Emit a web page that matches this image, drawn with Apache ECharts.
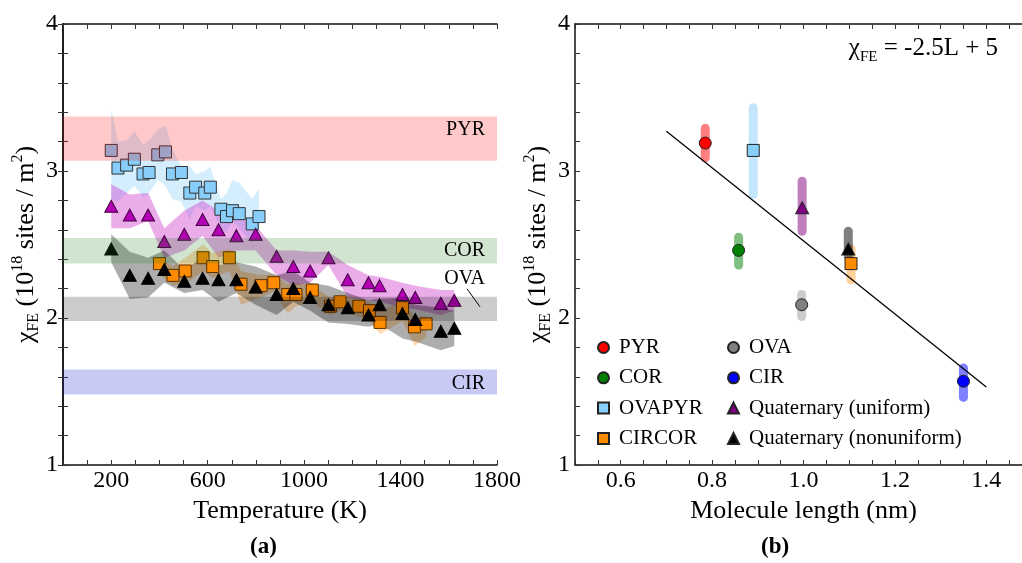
<!DOCTYPE html>
<html>
<head>
<meta charset="utf-8">
<script src="https://cdn.jsdelivr.net/npm/echarts@6/dist/echarts.min.js"></script>
<style>
html, body { margin: 0; background: #fff; }
#chart { width: 1022px; height: 563px; }
</style>
</head>
<body>
<div id="chart"></div>
<script>
// ---- panel (a): chi_FE vs temperature ----
const tempOvapyr = [200, 228, 264, 296, 332, 357, 393, 425, 454, 491, 526, 550, 588, 611, 655, 678, 703, 731, 785, 813];
const ovapyr     = [3.14, 3.02, 3.04, 3.08, 2.98, 2.99, 3.11, 3.13, 2.98, 2.99, 2.85, 2.89, 2.85, 2.89, 2.74, 2.69, 2.73, 2.71, 2.64, 2.69];
const ovapyrHi   = [3.42, 3.20, 3.21, 3.27, 3.18, 3.21, 3.28, 3.31, 3.15, 3.03, 3.03, 2.98, 3.00, 3.03, 2.81, 2.85, 2.94, 2.92, 2.81, 2.88];
const ovapyrLo   = [2.81, 2.79, 2.85, 2.90, 2.82, 2.85, 2.94, 2.90, 2.81, 2.79, 2.67, 2.76, 2.73, 2.76, 2.61, 2.58, 2.66, 2.61, 2.51, 2.58];

const tempQuat = [200, 277, 353, 420, 503, 579, 645, 719, 799, 886, 955, 1025, 1101, 1181, 1267, 1313, 1408, 1461, 1567, 1623];
const quatUni   = [2.76, 2.70, 2.70, 2.52, 2.57, 2.67, 2.60, 2.56, 2.57, 2.42, 2.35, 2.32, 2.41, 2.26, 2.24, 2.22, 2.16, 2.14, 2.10, 2.12];
const quatUniHi = [2.91, 2.84, 2.85, 2.61, 2.73, 2.80, 2.73, 2.71, 2.63, 2.46, 2.46, 2.45, 2.45, 2.36, 2.29, 2.28, 2.24, 2.22, 2.19, 2.19];
const quatUniLo = [2.61, 2.61, 2.66, 2.41, 2.46, 2.56, 2.41, 2.46, 2.46, 2.29, 2.22, 2.24, 2.36, 2.14, 2.12, 2.11, 2.07, 2.06, 2.02, 2.05];
const quatNon   = [2.47, 2.29, 2.27, 2.33, 2.25, 2.27, 2.26, 2.26, 2.21, 2.16, 2.20, 2.14, 2.09, 2.07, 2.02, 2.09, 2.03, 1.99, 1.91, 1.93];
const quatNonHi = [2.57, 2.45, 2.41, 2.46, 2.33, 2.41, 2.36, 2.38, 2.35, 2.29, 2.32, 2.24, 2.22, 2.17, 2.12, 2.13, 2.14, 2.09, 2.07, 2.05];
const quatNonLo = [2.38, 2.13, 2.14, 2.24, 2.17, 2.19, 2.11, 2.17, 2.09, 2.02, 2.11, 2.05, 1.97, 1.96, 1.94, 1.96, 1.86, 1.84, 1.78, 1.81];

const tempCircor = [400, 456, 507, 581, 621, 690, 738, 821, 874, 932, 966, 1034, 1109, 1149, 1227, 1271, 1315, 1408, 1458, 1506];
const circor     = [2.37, 2.29, 2.32, 2.41, 2.35, 2.41, 2.23, 2.22, 2.24, 2.16, 2.16, 2.19, 2.08, 2.11, 2.08, 2.05, 1.97, 2.07, 1.94, 1.96];
const circorHi   = [2.41, 2.35, 2.41, 2.50, 2.44, 2.47, 2.32, 2.29, 2.30, 2.23, 2.24, 2.22, 2.14, 2.16, 2.13, 2.11, 2.05, 2.11, 2.01, 2.01];
const circorLo   = [2.30, 2.22, 2.23, 2.32, 2.27, 2.32, 2.09, 2.14, 2.18, 2.03, 2.08, 2.11, 2.02, 2.05, 2.01, 1.98, 1.89, 1.98, 1.81, 1.87];

const bandNames = ['PYR', 'COR', 'OVA', 'CIR'];
const bandLo    = [3.07, 2.37, 1.98, 1.48];
const bandHi    = [3.37, 2.545, 2.145, 1.65];

// ---- panel (b): chi_FE vs molecule length ----
const molNames  = ['PYR', 'COR', 'OVAPYR', 'CIRCOR', 'OVA', 'CIR', 'Quaternary (uniform)', 'Quaternary (nonuniform)'];
const molLength = [0.785, 0.858, 0.890, 1.104, 0.996, 1.350, 0.997, 1.098];
const molChi    = [3.19, 2.46, 3.14, 2.37, 2.09, 1.57, 2.75, 2.47];
const molLo     = [3.09, 2.36, 2.84, 2.26, 2.01, 1.46, 2.59, 2.42];
const molHi     = [3.29, 2.55, 3.43, 2.47, 2.16, 1.66, 2.93, 2.59];
const fitLength = [0.7, 1.4];
const fitChi    = [3.27, 1.53];

// styles
const FONT = 'Liberation Serif';
const bandColors = ['rgba(255,0,0,0.21)', 'rgba(20,120,20,0.2)', 'rgba(0,0,0,0.2)', 'rgba(40,40,220,0.25)'];
const bandLabelShift = [-9, 0, -30, 2];
const molColors = ['#ff0000', '#008000', '#87cefa', '#ff8c00', '#808080', '#0000ff', '#800080', '#000000'];
const molBarColors = ['rgba(255,0,0,0.5)', 'rgba(0,128,0,0.5)', 'rgba(135,206,250,0.5)', 'rgba(255,140,0,0.4)',
  'rgba(128,128,128,0.4)', 'rgba(0,0,255,0.5)', 'rgba(128,0,128,0.5)', 'rgba(0,0,0,0.5)'];
const molSymbols = ['circle', 'circle', 'rect', 'rect', 'circle', 'circle', 'triangle', 'triangle'];

const chart = echarts.init(document.getElementById('chart'));

function zip(xs, ys) {
  return xs.map(function (x, i) { return [x, ys[i]]; });
}

function shade(xs, hi, lo, color) {
  return {
    type: 'custom', xAxisIndex: 0, yAxisIndex: 0, z: 1, silent: true,
    data: [[xs[0], lo[0]]],
    renderItem: function (params, api) {
      const pts = [];
      for (let i = 0; i < xs.length; i++) pts.push(api.coord([xs[i], hi[i]]));
      for (let i = xs.length - 1; i >= 0; i--) pts.push(api.coord([xs[i], lo[i]]));
      return { type: 'polygon', shape: { points: pts }, style: { fill: color } };
    }
  };
}

function tickAxis(extra) {
  return Object.assign({
    type: 'value',
    axisLine: { show: true, lineStyle: { color: '#111', width: 1.5 } },
    axisTick: { show: true, inside: true, length: 5, lineStyle: { color: '#333' } },
    splitLine: { show: false },
    axisLabel: { show: false }
  }, extra);
}

const yName = '{t|χ}{sub|FE}{t| (10}{sup|18}{t| sites / m}{sup|2}{t|)}';
const yNameStyle = {
  fontFamily: FONT, fontSize: 26, color: '#000',
  rich: {
    t: { fontFamily: FONT, fontSize: 26, lineHeight: 32, color: '#000' },
    sub: { fontFamily: FONT, fontSize: 16, lineHeight: 24, verticalAlign: 'bottom', color: '#000' },
    sup: { fontFamily: FONT, fontSize: 16, lineHeight: 16, verticalAlign: 'top', color: '#000' }
  }
};
const intLabel = function (v) {
  return Math.abs(v - Math.round(v)) < 1e-6 ? String(Math.round(v)) : '';
};
const nameStyle = { fontFamily: FONT, fontSize: 26, color: '#000' };

const option = {
  animation: false,
  backgroundColor: '#fff',
  grid: [
    { left: 63, top: 24, width: 434, height: 441, outerBoundsMode: 'none' },
    { left: 575, top: 24, width: 457, height: 441, outerBoundsMode: 'none' }
  ],
  xAxis: [
    tickAxis({
      gridIndex: 0, min: 0, max: 1800, interval: 100, position: 'bottom',
      name: 'Temperature (K)', nameLocation: 'middle', nameGap: 33, nameTextStyle: nameStyle,
      axisLabel: {
        show: true, interval: 0, margin: 4, fontFamily: FONT, fontSize: 24, color: '#000',
        formatter: function (v) { return (v >= 200 && (v - 200) % 400 === 0) ? String(v) : ''; }
      }
    }),
    tickAxis({ gridIndex: 0, min: 0, max: 1800, interval: 100, position: 'top' }),
    tickAxis({
      gridIndex: 1, min: 0.5, max: 1.5, interval: 0.05, position: 'bottom',
      name: 'Molecule length (nm)', nameLocation: 'middle', nameGap: 33, nameTextStyle: nameStyle,
      axisLabel: {
        show: true, interval: 0, margin: 4, fontFamily: FONT, fontSize: 24, color: '#000',
        formatter: function (v) {
          const k = Math.round(v * 20);
          return (k % 4 === 0 && k >= 12) ? (k / 20).toFixed(1) : '';
        }
      }
    }),
    tickAxis({ gridIndex: 1, min: 0.5, max: 1.5, interval: 0.05, position: 'top' })
  ],
  yAxis: [
    tickAxis({
      gridIndex: 0, min: 1, max: 4, interval: 0.2, position: 'left',
      name: yName, nameLocation: 'middle', nameRotate: 90, nameGap: 19, nameTextStyle: yNameStyle,
      axisLabel: { show: true, interval: 0, margin: 5, fontFamily: FONT, fontSize: 24, color: '#000', formatter: intLabel }
    }),
    tickAxis({ gridIndex: 0, min: 1, max: 4, interval: 0.2, position: 'right' }),
    tickAxis({
      gridIndex: 1, min: 1, max: 4, interval: 0.2, position: 'left',
      name: yName, nameLocation: 'middle', nameRotate: 90, nameGap: 17, nameTextStyle: yNameStyle,
      axisLabel: { show: true, interval: 0, margin: 5, fontFamily: FONT, fontSize: 24, color: '#000', formatter: intLabel }
    }),
    tickAxis({ gridIndex: 1, min: 1, max: 4, interval: 0.2, position: 'right' })
  ],
  legend: [
    {
      data: molNames.slice(0, 4), orient: 'vertical', left: 597, top: 337, padding: 0,
      itemWidth: 11, itemHeight: 11, itemGap: 9.3, selectedMode: false,
      textStyle: { fontFamily: FONT, fontSize: 21, color: '#000', lineHeight: 20, padding: [0, 0, 0, 5] }
    },
    {
      data: molNames.slice(4), orient: 'vertical', left: 727, top: 337, padding: 0,
      itemWidth: 11, itemHeight: 11, itemGap: 9.3, selectedMode: false,
      textStyle: { fontFamily: FONT, fontSize: 21, color: '#000', lineHeight: 20, padding: [0, 0, 0, 5] }
    }
  ],
  graphic: [
    { type: 'text', left: 266 - 16, top: 536, style: { text: '(a)', font: 'bold 23px "Liberation Serif"', fill: '#000' } },
    { type: 'text', left: 777 - 16, top: 536, style: { text: '(b)', font: 'bold 23px "Liberation Serif"', fill: '#000' } },
    {
      type: 'text', right: 24, top: 36,
      style: {
        text: '{t|χ}{s|FE}{t| = -2.5L + 5}', fill: '#000',
        rich: {
          t: { fontFamily: FONT, fontSize: 25, lineHeight: 32, fill: '#000' },
          s: { fontFamily: FONT, fontSize: 15, lineHeight: 22, verticalAlign: 'bottom', fill: '#000' }
        }
      }
    }
  ],
  series: [
    shade(tempOvapyr, ovapyrHi, ovapyrLo, 'rgba(135,206,250,0.35)'),
    shade(tempQuat, quatUniHi, quatUniLo, 'rgba(200,40,200,0.38)'),
    shade(tempCircor, circorHi, circorLo, 'rgba(255,140,0,0.3)'),
    shade(tempQuat, quatNonHi, quatNonLo, 'rgba(0,0,0,0.32)'),
    {
      type: 'scatter', xAxisIndex: 0, yAxisIndex: 0, z: 3, symbol: 'rect', symbolSize: 12,
      itemStyle: { color: '#87cefa', borderColor: '#333', borderWidth: 1, opacity: 1 },
      data: zip(tempOvapyr, ovapyr)
    },
    {
      type: 'scatter', xAxisIndex: 0, yAxisIndex: 0, z: 3, symbol: 'rect', symbolSize: 12,
      itemStyle: { color: '#ff8c00', borderColor: '#5a3000', borderWidth: 1, opacity: 1 },
      data: zip(tempCircor, circor)
    },
    {
      type: 'scatter', xAxisIndex: 0, yAxisIndex: 0, z: 3, symbol: 'triangle', symbolSize: [13, 12],
      itemStyle: { color: '#b400b4', borderColor: '#400040', borderWidth: 1, opacity: 1 },
      data: zip(tempQuat, quatUni)
    },
    {
      type: 'scatter', xAxisIndex: 0, yAxisIndex: 0, z: 3, symbol: 'triangle', symbolSize: [13, 12],
      itemStyle: { color: '#000', borderColor: '#000', borderWidth: 1, opacity: 1 },
      data: zip(tempQuat, quatNon)
    },
    {
      type: 'custom', xAxisIndex: 0, yAxisIndex: 0, z: 5, silent: true,
      data: bandLo.map(function (lo, i) { return [900, lo, bandHi[i]]; }),
      renderItem: function (params, api) {
        const i = params.dataIndex;
        const p1 = api.coord([0, api.value(2)]);
        const p2 = api.coord([1800, api.value(1)]);
        const ty = (p1[1] + p2[1]) / 2 + bandLabelShift[i];
        const children = [
          { type: 'rect', shape: { x: p1[0], y: p1[1], width: p2[0] - p1[0], height: p2[1] - p1[1] }, style: { fill: bandColors[i] } },
          { type: 'text', x: p2[0] - 12, y: ty, style: { text: bandNames[i], font: '20px "Liberation Serif"', fill: '#000', align: 'right', verticalAlign: 'middle' } }
        ];
        if (bandNames[i] === 'OVA') {
          children.push({ type: 'line', shape: { x1: p2[0] - 30, y1: ty + 10, x2: p2[0] - 17, y2: ty + 28 }, style: { stroke: '#000', lineWidth: 1 } });
        }
        return { type: 'group', children: children };
      }
    },
    // panel (b)
    {
      type: 'custom', xAxisIndex: 2, yAxisIndex: 2, z: 2, silent: true,
      data: molLength.map(function (l, i) { return [l, molLo[i], molHi[i]]; }),
      renderItem: function (params, api) {
        const a = api.coord([api.value(0), api.value(1)]);
        const b = api.coord([api.value(0), api.value(2)]);
        return {
          type: 'line', shape: { x1: a[0], y1: a[1], x2: b[0], y2: b[1] },
          style: { stroke: molBarColors[params.dataIndex], lineWidth: 9, lineCap: 'round' }
        };
      }
    },
    {
      type: 'line', xAxisIndex: 2, yAxisIndex: 2, z: 3, symbol: 'none', silent: true,
      lineStyle: { color: '#000', width: 1.3 },
      data: zip(fitLength, fitChi)
    }
  ].concat(molNames.map(function (name, i) {
    return {
      name: name, type: 'scatter', xAxisIndex: 2, yAxisIndex: 2, z: 4,
      symbol: molSymbols[i], symbolSize: molSymbols[i] === 'triangle' ? [13, 12] : 12,
      itemStyle: { color: molColors[i], borderColor: '#222', borderWidth: 1, opacity: 1 },
      data: [[molLength[i], molChi[i]]]
    };
  }))
};

chart.setOption(option);
</script>
</body>
</html>
